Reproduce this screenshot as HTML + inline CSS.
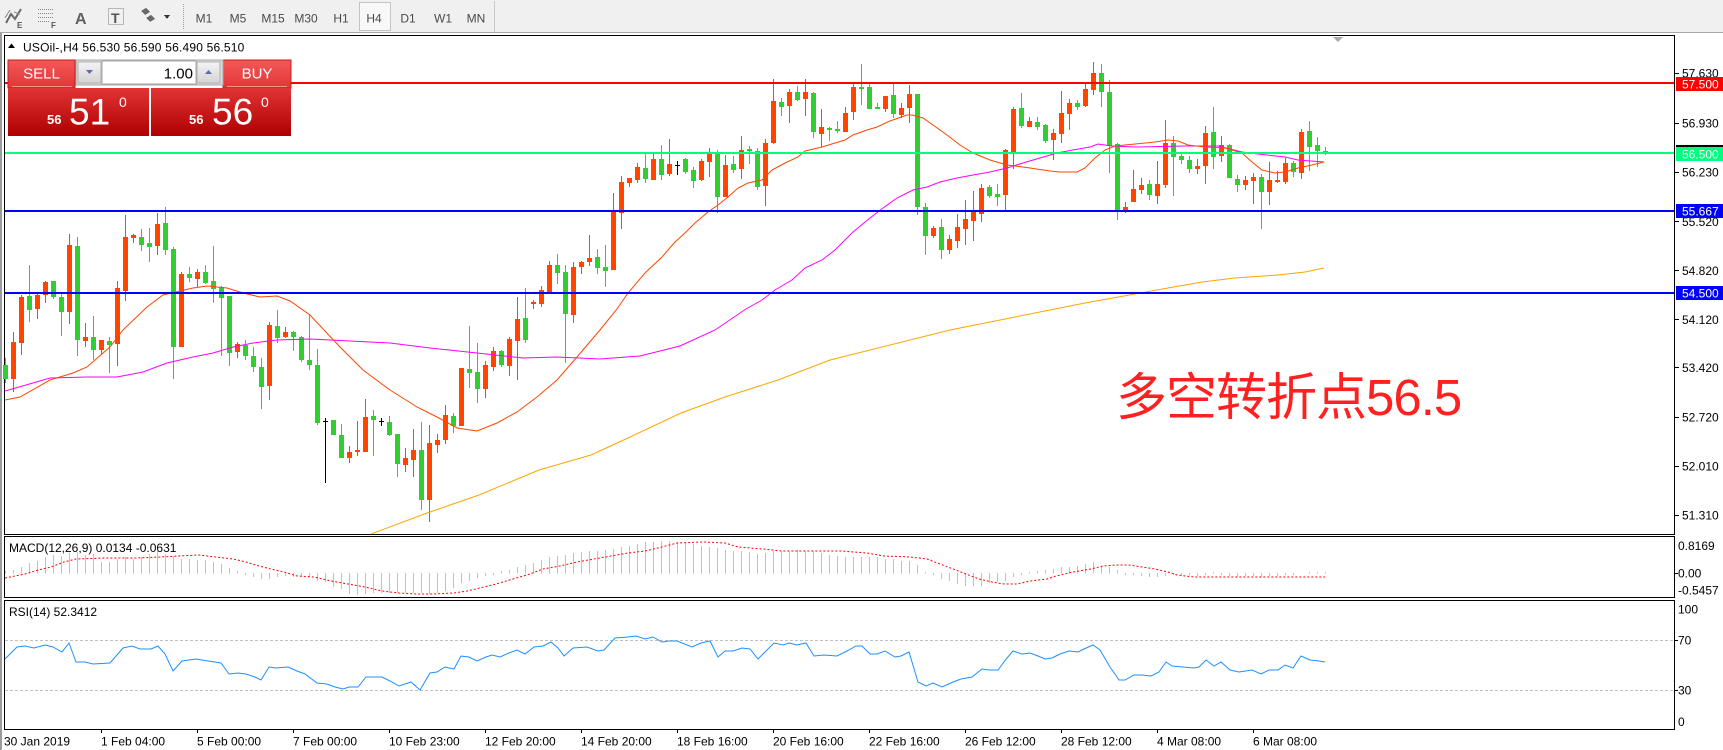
<!DOCTYPE html>
<html><head><meta charset="utf-8"><style>
html,body{margin:0;padding:0;background:#fff;overflow:hidden;}
svg{display:block;}
text{font-family:"Liberation Sans","Noto Sans CJK SC",sans-serif;}
</style></head><body>
<svg width="1723" height="750" viewBox="0 0 1723 750" xmlns="http://www.w3.org/2000/svg">
<defs>
<linearGradient id="gBtn" x1="0" y1="0" x2="0" y2="1"><stop offset="0" stop-color="#F55858"/><stop offset="1" stop-color="#E03636"/></linearGradient>
<linearGradient id="gPrice" x1="0" y1="0" x2="0" y2="1"><stop offset="0" stop-color="#E23434"/><stop offset="1" stop-color="#AE0000"/></linearGradient>
<linearGradient id="gGray" x1="0" y1="0" x2="0" y2="1"><stop offset="0" stop-color="#F4F4F4"/><stop offset="1" stop-color="#D4D4D4"/></linearGradient>
</defs>
<rect x="0" y="0" width="1723" height="750" fill="#fff"/>
<!-- toolbar -->
<rect x="0" y="0" width="1723" height="32" fill="#F0F0F0"/>
<rect x="0" y="32" width="1723" height="1" fill="#A8A8A8"/>
<g shape-rendering="crispEdges">
<path d="M6 23 L11 14 L15 19 L21 9" stroke="#6a6a6a" stroke-width="2" fill="none"/>
<path d="M5 18 L10 10 M14 12 L20 14" stroke="#8a8a8a" stroke-width="1" fill="none"/>
<g stroke="#858585" stroke-width="1" stroke-dasharray="1,1"><path d="M38 9.5h15M38 13.5h15M38 17.5h15M38 21.5h12"/></g>
<path d="M108.5 8.5h15v16h-15z" stroke="#808080" stroke-dasharray="1,1" fill="none"/>
<path d="M141 11 l5 -3 l4 4 l-5 3z M146 18 l5 -3 l4 4 l-5 3z" fill="#6a6a6a"/>
<path d="M164 15 h6 l-3 4z" fill="#333"/>
<path d="M183.5 4V30" stroke="#A0A0A0" stroke-dasharray="1,1"/>
<rect x="359.5" y="2.5" width="31" height="28" fill="#F8F8F8" stroke="#C4C4C4"/>
<rect x="494" y="1" width="1" height="31" fill="#C8C8C8"/>
</g>
<text x="17" y="28" font-size="8" font-weight="bold" fill="#555">E</text>
<text x="51" y="28" font-size="8" font-weight="bold" fill="#555">F</text>
<text x="75" y="24" font-size="16" font-weight="bold" fill="#606060">A</text>
<text x="111" y="23" font-size="14" font-weight="bold" fill="#555">T</text>
<g font-size="12" fill="#4a4a4a" text-anchor="middle">
<text x="204" y="22.5">M1</text><text x="238" y="22.5">M5</text><text x="273" y="22.5">M15</text><text x="306" y="22.5">M30</text><text x="341" y="22.5">H1</text><text x="374" y="22.5">H4</text><text x="408" y="22.5">D1</text><text x="443" y="22.5">W1</text><text x="476" y="22.5">MN</text>
</g>
<!-- window left strip -->
<rect x="0" y="33" width="2" height="717" fill="#9C9C9C"/>
<!-- frames -->
<g fill="#000" shape-rendering="crispEdges">
<rect x="4" y="35" width="1671" height="1"/><rect x="4" y="35" width="1" height="500"/><rect x="1674" y="35" width="1" height="500"/><rect x="4" y="534" width="1671" height="1"/>
<rect x="4" y="536" width="1671" height="1"/><rect x="4" y="536" width="1" height="62"/><rect x="1674" y="536" width="1" height="62"/><rect x="4" y="597" width="1671" height="1"/>
<rect x="4" y="600" width="1671" height="1"/><rect x="4" y="600" width="1" height="130"/><rect x="1674" y="600" width="1" height="130"/><rect x="4" y="729" width="1671" height="1"/>
</g>
<!-- chart shift marker -->
<path d="M1333 37h10l-5 5z" fill="#A8A8A8"/>
<!-- candles -->
<g shape-rendering="crispEdges">
<path fill="#32CD32" d="M3 365h5V379h-5zM5 358h1V383h-1zM27 296h5V310h-5zM29 265h1V322h-1zM51 281h5V297h-5zM53 281h1V299h-1zM59 297h5V312h-5zM61 292h1V336h-1zM75 246h5V340h-5zM77 237h1V356h-1zM91 337h5V350h-5zM93 316h1V360h-1zM107 341h5V345h-5zM109 337h1V373h-1zM139 237h5V245h-5zM141 229h1V251h-1zM147 243h5V247h-5zM149 228h1V262h-1zM163 223h5V250h-5zM165 207h1V255h-1zM171 249h5V347h-5zM173 247h1V379h-1zM187 274h5V278h-5zM189 267h1V282h-1zM203 272h5V283h-5zM205 265h1V284h-1zM211 281h5V289h-5zM213 246h1V303h-1zM219 287h5V298h-5zM221 286h1V356h-1zM227 296h5V353h-5zM229 296h1V366h-1zM243 345h5V356h-5zM245 340h1V360h-1zM251 356h5V367h-5zM253 347h1V372h-1zM259 367h5V387h-5zM261 358h1V409h-1zM275 326h5V338h-5zM277 310h1V343h-1zM291 332h5V337h-5zM293 331h1V351h-1zM299 337h5V360h-5zM301 336h1V362h-1zM307 360h5V365h-5zM309 314h1V370h-1zM315 365h5V423h-5zM317 349h1V425h-1zM331 420h5V435h-5zM339 435h5V458h-5zM341 424h1V458h-1zM371 416h5V420h-5zM373 410h1V456h-1zM387 422h5V435h-5zM389 416h1V436h-1zM395 434h5V464h-5zM397 434h1V477h-1zM419 450h5V500h-5zM421 422h1V510h-1zM451 416h5V426h-5zM453 413h1V433h-1zM467 369h5V373h-5zM469 326h1V388h-1zM475 372h5V389h-5zM477 343h1V403h-1zM499 351h5V365h-5zM501 350h1V367h-1zM523 318h5V340h-5zM525 288h1V343h-1zM555 265h5V273h-5zM557 254h1V284h-1zM563 272h5V314h-5zM565 265h1V363h-1zM595 257h5V268h-5zM597 249h1V274h-1zM603 267h5V271h-5zM605 245h1V287h-1zM643 168h5V179h-5zM645 154h1V183h-1zM659 159h5V175h-5zM661 145h1V180h-1zM683 159h5V172h-5zM685 158h1V174h-1zM691 170h5V181h-5zM693 167h1V188h-1zM715 152h5V197h-5zM717 150h1V213h-1zM731 164h5V170h-5zM733 156h1V173h-1zM747 149h5V151h-5zM749 146h1V164h-1zM755 151h5V187h-5zM757 148h1V190h-1zM779 102h5V107h-5zM781 98h1V116h-1zM795 92h5V100h-5zM797 86h1V101h-1zM811 93h5V132h-5zM813 92h1V138h-1zM827 128h5V130h-5zM829 127h1V141h-1zM835 129h5V131h-5zM837 121h1V133h-1zM859 87h5V89h-5zM861 64h1V105h-1zM867 87h5V109h-5zM869 82h1V109h-1zM875 107h5V109h-5zM877 103h1V109h-1zM891 95h5V114h-5zM893 83h1V118h-1zM915 94h5V207h-5zM917 94h1V215h-1zM923 207h5V236h-5zM925 203h1V255h-1zM939 227h5V250h-5zM941 219h1V259h-1zM987 187h5V196h-5zM989 185h1V198h-1zM995 194h5V197h-5zM997 184h1V206h-1zM1019 108h5V126h-5zM1021 93h1V128h-1zM1035 122h5V127h-5zM1037 117h1V130h-1zM1043 125h5V141h-5zM1045 124h1V143h-1zM1075 103h5V107h-5zM1077 100h1V110h-1zM1099 73h5V92h-5zM1101 64h1V107h-1zM1107 92h5V146h-5zM1109 80h1V173h-1zM1115 144h5V211h-5zM1117 143h1V220h-1zM1147 184h5V195h-5zM1149 180h1V200h-1zM1171 143h5V157h-5zM1173 136h1V196h-1zM1179 156h5V160h-5zM1181 152h1V164h-1zM1187 160h5V169h-5zM1189 156h1V173h-1zM1211 132h5V157h-5zM1213 107h1V169h-1zM1227 145h5V178h-5zM1229 144h1V178h-1zM1235 179h5V185h-5zM1237 175h1V192h-1zM1259 177h5V192h-5zM1261 174h1V229h-1zM1291 163h5V172h-5zM1293 161h1V177h-1zM1307 131h5V147h-5zM1309 121h1V171h-1zM1315 145h5V151h-5zM1317 137h1V167h-1zM1323 151h5V153h-5zM1325 147h1V155h-1z"/>
<path fill="#FF4500" d="M11 342h5V379h-5zM13 332h1V392h-1zM19 297h5V343h-5zM21 295h1V355h-1zM35 295h5V309h-5zM37 294h1V319h-1zM43 282h5V295h-5zM45 281h1V303h-1zM67 245h5V312h-5zM69 234h1V324h-1zM83 337h5V341h-5zM85 323h1V347h-1zM99 340h5V350h-5zM101 340h1V354h-1zM115 288h5V344h-5zM117 281h1V366h-1zM123 237h5V291h-5zM125 215h1V301h-1zM131 235h5V238h-5zM133 234h1V243h-1zM155 224h5V246h-5zM157 213h1V255h-1zM179 274h5V347h-5zM181 272h1V347h-1zM195 272h5V279h-5zM197 269h1V287h-1zM235 344h5V352h-5zM237 342h1V358h-1zM267 325h5V386h-5zM269 322h1V400h-1zM283 332h5V337h-5zM285 327h1V338h-1zM347 452h5V458h-5zM349 446h1V463h-1zM355 450h5V452h-5zM357 421h1V456h-1zM363 417h5V452h-5zM365 399h1V452h-1zM403 458h5V465h-5zM405 448h1V472h-1zM411 450h5V460h-5zM413 429h1V477h-1zM427 443h5V500h-5zM429 425h1V522h-1zM435 440h5V445h-5zM437 434h1V453h-1zM443 415h5V440h-5zM445 405h1V444h-1zM459 368h5V426h-5zM483 365h5V389h-5zM485 361h1V398h-1zM491 351h5V367h-5zM493 347h1V371h-1zM507 339h5V366h-5zM509 337h1V376h-1zM515 319h5V341h-5zM517 297h1V380h-1zM531 302h5V304h-5zM533 300h1V309h-1zM539 290h5V304h-5zM541 286h1V307h-1zM547 265h5V292h-5zM549 261h1V293h-1zM571 267h5V315h-5zM573 262h1V323h-1zM579 262h5V267h-5zM581 261h1V274h-1zM587 258h5V262h-5zM589 235h1V266h-1zM611 212h5V270h-5zM613 193h1V270h-1zM619 182h5V213h-5zM621 176h1V229h-1zM627 178h5V183h-5zM629 178h1V187h-1zM635 167h5V180h-5zM637 163h1V183h-1zM651 159h5V180h-5zM653 154h1V180h-1zM667 164h5V174h-5zM669 139h1V176h-1zM699 161h5V180h-5zM701 159h1V181h-1zM707 152h5V162h-5zM709 148h1V177h-1zM723 165h5V197h-5zM725 155h1V197h-1zM739 150h5V169h-5zM741 136h1V179h-1zM763 143h5V186h-5zM765 139h1V206h-1zM771 101h5V143h-5zM773 79h1V144h-1zM787 92h5V106h-5zM789 89h1V123h-1zM803 92h5V99h-5zM805 79h1V116h-1zM819 127h5V134h-5zM821 109h1V147h-1zM843 113h5V132h-5zM845 107h1V132h-1zM851 87h5V112h-5zM853 84h1V120h-1zM883 96h5V109h-5zM885 96h1V112h-1zM899 108h5V115h-5zM901 103h1V118h-1zM907 94h5V108h-5zM909 85h1V123h-1zM931 228h5V236h-5zM933 226h1V238h-1zM947 239h5V250h-5zM949 235h1V254h-1zM955 227h5V241h-5zM957 214h1V248h-1zM963 219h5V229h-5zM965 200h1V245h-1zM971 212h5V221h-5zM973 191h1V241h-1zM979 188h5V214h-5zM981 184h1V222h-1zM1003 150h5V195h-5zM1005 149h1V211h-1zM1011 109h5V152h-5zM1013 107h1V169h-1zM1027 121h5V127h-5zM1029 117h1V127h-1zM1051 133h5V140h-5zM1053 129h1V160h-1zM1059 113h5V134h-5zM1061 91h1V143h-1zM1067 103h5V114h-5zM1069 99h1V130h-1zM1083 89h5V106h-5zM1085 82h1V107h-1zM1091 73h5V90h-5zM1093 62h1V95h-1zM1123 207h5V212h-5zM1125 202h1V213h-1zM1131 189h5V202h-5zM1133 170h1V202h-1zM1139 185h5V190h-5zM1141 178h1V194h-1zM1155 184h5V196h-5zM1157 161h1V204h-1zM1163 143h5V185h-5zM1165 120h1V188h-1zM1195 166h5V169h-5zM1197 159h1V174h-1zM1203 133h5V166h-5zM1205 126h1V184h-1zM1219 145h5V156h-5zM1221 136h1V162h-1zM1243 180h5V185h-5zM1245 176h1V190h-1zM1251 177h5V181h-5zM1253 173h1V204h-1zM1267 180h5V192h-5zM1269 162h1V205h-1zM1275 180h5V182h-5zM1277 171h1V183h-1zM1283 163h5V182h-5zM1285 158h1V184h-1zM1299 132h5V173h-5zM1301 129h1V179h-1z"/>
<path fill="#000" d="M325 418h1V483h-1zM323 421h5v1h-5zM381 418h1V426h-1zM379 421h5v1h-5zM677 161h1V175h-1zM675 165h5v1h-5z"/>
</g>
<!-- moving averages -->
<g fill="none" stroke-width="1">
<polyline stroke="#FFA500" points="371,534 427,513 479,495 539,470 591,455 628,438 681,413 725,397 778,380 830,360 950,330 1085,303 1135,294 1168,288 1202,282 1235,278 1278,275 1305,272 1324,268"/>
<polyline stroke="#FF00FF" points="5,391 33,383 50,378 87,377 117,377 143,372 167,363 193,357 213,353 233,347 253,343 277,340 310,339 350,341 390,343 430,348 477,353 523,358 557,357 600,359 640,356 680,346 715,330 746,309 762,300 775,290 792,280 805,268 822,260 835,250 845,240 853,232 870,218 883,208 897,198 913,190 927,187 940,182 957,178 973,175 990,172 1007,168 1023,163 1040,158 1057,153 1073,150 1090,147 1098,144 1112,146 1135,147 1185,146 1218,146 1242,152 1258,154 1285,157 1298,160 1324,162"/>
<polyline stroke="#FF4500" points="5,400 20,397 50,380 73,373 87,367 110,347 123,330 147,307 163,295 193,288 207,286 227,288 243,293 260,297 277,296 290,301 310,315 340,347 363,370 390,390 417,407 437,417 457,428 477,431 497,423 517,412 537,397 557,380 577,357 600,330 617,309 628,293 645,273 662,257 675,242 685,233 695,223 708,212 718,205 728,197 738,188 748,183 762,180 772,170 785,163 798,157 805,151 822,147 835,143 845,140 853,135 867,130 877,127 890,121 907,115 912,115 923,118 933,125 947,135 960,145 973,153 990,160 1007,165 1030,168 1050,171 1060,172 1077,172 1085,168 1095,158 1105,150 1115,146 1135,144 1155,142 1168,140 1178,141 1188,145 1205,147 1225,148 1242,153 1252,162 1262,170 1275,173 1285,172 1298,168 1312,165 1324,162"/>
</g>
<!-- horizontal lines -->
<g shape-rendering="crispEdges">
<rect x="5" y="82" width="1669" height="2" fill="#FF0000"/>
<rect x="5" y="152" width="1669" height="2" fill="#00FF7F"/>
<rect x="5" y="210" width="1669" height="2" fill="#0000FF"/>
<rect x="5" y="292" width="1669" height="2" fill="#0000FF"/>
</g>
<!-- header -->
<path d="M8 48h7l-3.5 -4.5z" fill="#000"/>
<text x="23" y="51.5" font-size="12" fill="#000" letter-spacing="0.2">USOil-,H4  56.530 56.590 56.490 56.510</text>
<!-- trade panel -->
<g shape-rendering="crispEdges">
<rect x="8" y="60" width="67" height="28" fill="url(#gBtn)" stroke="#C41E1E" stroke-width="1"/>
<rect x="12" y="86" width="60" height="1" fill="#F59090"/>
<rect x="223" y="60" width="68" height="28" fill="url(#gBtn)" stroke="#C41E1E" stroke-width="1"/>
<rect x="227" y="86" width="60" height="1" fill="#F59090"/>
<rect x="76" y="60" width="147" height="25" fill="#DADADA" stroke="#A8A8A8"/>
<rect x="78" y="62" width="23" height="21" fill="url(#gGray)" stroke="#B0B0B0"/>
<rect x="102" y="61" width="94" height="23" fill="#FFF" stroke="#A8A8A8"/>
<rect x="197" y="62" width="23" height="21" fill="url(#gGray)" stroke="#B0B0B0"/>
<rect x="8" y="88" width="141" height="48" fill="url(#gPrice)"/>
<rect x="151" y="88" width="140" height="48" fill="url(#gPrice)"/>
</g>
<path d="M86 70h7l-3.5 4z" fill="#5A6CB0"/>
<path d="M205 74h7l-3.5 -4z" fill="#5A6CB0"/>
<text x="41.5" y="78.5" font-size="15" fill="#fff" text-anchor="middle">SELL</text>
<text x="257" y="78.5" font-size="15" fill="#fff" text-anchor="middle">BUY</text>
<text x="193" y="78.5" font-size="15" fill="#000" text-anchor="end">1.00</text>
<g fill="#fff">
<text x="47" y="124" font-size="13" font-weight="bold">56</text>
<text x="69" y="124.5" font-size="37">51</text>
<text x="119" y="107" font-size="14">0</text>
<text x="189" y="124" font-size="13" font-weight="bold">56</text>
<text x="212" y="124.5" font-size="37">56</text>
<text x="261" y="107" font-size="14">0</text>
</g>
<!-- big annotation -->
<text x="1116" y="415" font-size="51" fill="#FF2020" letter-spacing="-1">多空转折点56.5</text>
<!-- MACD -->
<path stroke="#C0C0C0" stroke-width="1" fill="none" shape-rendering="crispEdges" d="M5.5 573.5V571M13.5 573.5V570M21.5 573.5V567M29.5 573.5V563M37.5 573.5V561M45.5 573.5V557M53.5 573.5V555M61.5 573.5V556M69.5 573.5V553M77.5 573.5V552M85.5 573.5V555M93.5 573.5V554M101.5 573.5V562M109.5 573.5V562M117.5 573.5V559M125.5 573.5V557M133.5 573.5V559M141.5 573.5V557M149.5 573.5V554M157.5 573.5V551M165.5 573.5V554M173.5 573.5V556M181.5 573.5V559M189.5 573.5V559M197.5 573.5V560M205.5 573.5V560M213.5 573.5V562M221.5 573.5V564M229.5 573.5V568M237.5 573.5V571M245.5 573V575M253.5 573V577M261.5 573V579M269.5 573V579M277.5 573V577M285.5 573V576M293.5 573V577M301.5 573V577M309.5 573V577M317.5 573V581M325.5 573V582M333.5 573V587M341.5 573V589M349.5 573V594M357.5 573V595M365.5 573V594M373.5 573V593M381.5 573V593M389.5 573V593M397.5 573V593M405.5 573V593M413.5 573V593M421.5 573V593M429.5 573V594M437.5 573V593M445.5 573V591M453.5 573V588M461.5 573V583M469.5 573V581M477.5 573V578M485.5 573V576M493.5 573V575M501.5 573.5V571M509.5 573.5V570M517.5 573.5V567M525.5 573.5V565M533.5 573.5V563M541.5 573.5V560M549.5 573.5V557M557.5 573.5V556M565.5 573.5V555M573.5 573.5V553M581.5 573.5V552M589.5 573.5V551M597.5 573.5V551M605.5 573.5V550M613.5 573.5V549M621.5 573.5V547M629.5 573.5V546M637.5 573.5V544M645.5 573.5V542M653.5 573.5V542M661.5 573.5V541M669.5 573.5V541M677.5 573.5V542M685.5 573.5V542M693.5 573.5V544M701.5 573.5V546M709.5 573.5V547M717.5 573.5V548M725.5 573.5V550M733.5 573.5V551M741.5 573.5V551M749.5 573.5V552M757.5 573.5V554M765.5 573.5V553M773.5 573.5V551M781.5 573.5V551M789.5 573.5V551M797.5 573.5V550M805.5 573.5V551M813.5 573.5V551M821.5 573.5V553M829.5 573.5V555M837.5 573.5V556M845.5 573.5V557M853.5 573.5V557M861.5 573.5V557M869.5 573.5V557M877.5 573.5V557M885.5 573.5V559M893.5 573.5V559M901.5 573.5V561M909.5 573.5V561M917.5 573.5V565M925.5 573.5V572M933.5 573V575M941.5 573V579M949.5 573V581M957.5 573V584M965.5 573V586M973.5 573V586M981.5 573V586M989.5 573V583M997.5 573V582M1005.5 573V581M1013.5 573V577M1021.5 573V575M1029.5 573.5V572M1037.5 573.5V571M1045.5 573.5V570M1053.5 573.5V569M1061.5 573.5V567M1069.5 573.5V567M1077.5 573.5V566M1085.5 573.5V564M1093.5 573.5V562M1101.5 573.5V566M1109.5 573.5V567M1117.5 573.5V570M1125.5 573V575M1133.5 573V575M1141.5 573V576M1149.5 573V577M1157.5 573V577M1165.5 573V576M1173.5 573V575M1181.5 573V575M1189.5 573V575M1197.5 573V576M1205.5 573V575M1213.5 573.5V572M1221.5 573V575M1229.5 573V576M1237.5 573V577M1245.5 573V576M1253.5 573V576M1261.5 573V577M1269.5 573V576M1277.5 573V576M1285.5 573V575M1293.5 573V575M1309.5 573.5V572M1317.5 573.5V572M1325.5 573.5V572"/>
<polyline fill="none" stroke="#FF0000" stroke-width="1" stroke-dasharray="2,2" points="5,578 25,574 38,570 51,567 64,562 76,559 106,558 136,558 161,557 178,556 199,555 216,557 233,559 246,562 259,566 271,569 284,572 297,576 314,577 331,581 348,584 365,587 382,591 399,593 416,594 433,594 454,593 467,591 484,587 496,584 513,579 530,574 543,569 560,566 577,562 594,559 611,556 628,553 645,551 662,547 677,543 703,542 725,543 738,547 763,549 781,551 841,551 867,553 884,556 910,557 927,559 940,564 953,569 966,574 979,579 992,582 1004,584 1017,584 1030,581 1047,579 1056,576 1073,572 1091,569 1103,566 1116,565 1129,565 1142,567 1155,569 1168,572 1177,575 1194,577 1325,577"/>
<text x="9" y="552" font-size="12" fill="#000">MACD(12,26,9) 0.0134 -0.0631</text>
<!-- RSI -->
<g stroke="#C0C0C0" stroke-width="1" stroke-dasharray="3,2" shape-rendering="crispEdges">
<path d="M5 640.5H1674M5 690.5H1674"/>
</g>
<polyline fill="none" stroke="#1E90FF" stroke-width="1" points="5,659 17,647 25,646 34,648 45,645 53,647 62,652 69,643 76,662 85,662 93,664 110,663 123,648 132,646 140,649 151,649 158,646 165,654 173,671 182,661 196,659 208,661 221,663 229,674 238,673 246,674 255,677 261,680 269,667 276,668 288,667 297,671 305,674 317,683 327,684 335,687 343,689 349,687 358,687 366,677 382,677 390,681 399,686 405,684 411,682 420,690 430,673 437,672 445,667 454,669 461,656 469,657 477,661 486,657 492,655 500,657 509,653 517,650 525,654 534,647 543,646 551,642 558,648 564,656 573,648 587,647 598,651 604,650 615,638 628,637 636,636 645,639 653,637 662,642 669,641 677,641 692,647 701,643 710,641 718,657 725,651 733,651 742,648 750,649 758,659 766,651 774,643 783,645 789,643 797,645 806,643 814,656 824,655 837,656 847,651 856,646 862,646 870,654 877,654 885,651 895,657 901,656 909,652 918,682 926,686 933,683 942,687 953,682 961,679 972,677 982,669 989,670 998,670 1007,658 1013,651 1022,654 1030,653 1038,656 1045,659 1052,658 1060,654 1069,651 1078,652 1084,649 1093,645 1100,650 1110,667 1119,680 1125,680 1134,675 1142,675 1151,676 1159,672 1166,662 1172,666 1183,667 1194,668 1199,667 1206,660 1214,666 1221,662 1230,670 1239,672 1252,670 1261,674 1269,670 1278,670 1285,665 1293,668 1301,656 1310,660 1319,661 1325,662"/>
<text x="9" y="616" font-size="12" fill="#000">RSI(14) 52.3412</text>
<!-- price axis -->
<g fill="#000" shape-rendering="crispEdges">
<rect x="1675" y="73" width="4" height="1"/><rect x="1675" y="123" width="4" height="1"/><rect x="1675" y="172" width="4" height="1"/><rect x="1675" y="221" width="4" height="1"/><rect x="1675" y="270" width="4" height="1"/><rect x="1675" y="319" width="4" height="1"/><rect x="1675" y="367" width="4" height="1"/><rect x="1675" y="417" width="4" height="1"/><rect x="1675" y="466" width="4" height="1"/><rect x="1675" y="515" width="4" height="1"/>
<rect x="1675" y="573" width="3" height="1"/><rect x="1675" y="640" width="3" height="1"/><rect x="1675" y="690" width="3" height="1"/>
</g>
<g font-size="12" fill="#000">
<text x="1682" y="77.5">57.630</text><text x="1682" y="127.5">56.930</text><text x="1682" y="176.5">56.230</text><text x="1682" y="226">55.520</text><text x="1682" y="275">54.820</text><text x="1682" y="324">54.120</text><text x="1682" y="372">53.420</text><text x="1682" y="421.5">52.720</text><text x="1682" y="470.5">52.010</text><text x="1682" y="519.5">51.310</text>
<text x="1678" y="550">0.8169</text><text x="1678" y="577.5">0.00</text><text x="1678" y="594.5">-0.5457</text>
<text x="1678" y="613.5">100</text><text x="1678" y="644.5">70</text><text x="1678" y="694.5">30</text><text x="1678" y="726">0</text>
</g>
<!-- price labels -->
<g shape-rendering="crispEdges">
<rect x="1676" y="77" width="47" height="14" fill="#FF0000"/>
<rect x="1676" y="145" width="47" height="2" fill="#000"/>
<rect x="1676" y="147" width="47" height="14" fill="#00FF7F"/>
<rect x="1676" y="204" width="47" height="14" fill="#0000FF"/>
<rect x="1676" y="286" width="47" height="14" fill="#0000FF"/>
</g>
<g font-size="12" fill="#fff">
<text x="1682" y="88.5">57.500</text><text x="1682" y="158.5">56.500</text><text x="1682" y="215.5">55.667</text><text x="1682" y="297.5">54.500</text>
</g>
<!-- time axis -->
<g fill="#000" shape-rendering="crispEdges">
<rect x="101" y="730" width="1" height="3"/><rect x="197" y="730" width="1" height="3"/><rect x="293" y="730" width="1" height="3"/><rect x="389" y="730" width="1" height="3"/><rect x="485" y="730" width="1" height="3"/><rect x="581" y="730" width="1" height="3"/><rect x="677" y="730" width="1" height="3"/><rect x="773" y="730" width="1" height="3"/><rect x="869" y="730" width="1" height="3"/><rect x="965" y="730" width="1" height="3"/><rect x="1061" y="730" width="1" height="3"/><rect x="1157" y="730" width="1" height="3"/><rect x="1253" y="730" width="1" height="3"/>
</g>
<g font-size="12" fill="#000">
<text x="4" y="745.5">30 Jan 2019</text>
<text x="101" y="745.5">1 Feb 04:00</text>
<text x="197" y="745.5">5 Feb 00:00</text>
<text x="293" y="745.5">7 Feb 00:00</text>
<text x="389" y="745.5">10 Feb 23:00</text>
<text x="485" y="745.5">12 Feb 20:00</text>
<text x="581" y="745.5">14 Feb 20:00</text>
<text x="677" y="745.5">18 Feb 16:00</text>
<text x="773" y="745.5">20 Feb 16:00</text>
<text x="869" y="745.5">22 Feb 16:00</text>
<text x="965" y="745.5">26 Feb 12:00</text>
<text x="1061" y="745.5">28 Feb 12:00</text>
<text x="1157" y="745.5">4 Mar 08:00</text>
<text x="1253" y="745.5">6 Mar 08:00</text>
</g>
</svg>
</body></html>
